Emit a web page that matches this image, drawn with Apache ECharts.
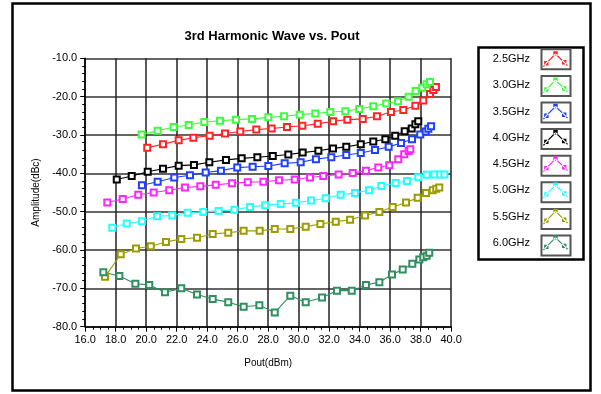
<!DOCTYPE html>
<html>
<head>
<meta charset="utf-8">
<script src="https://cdn.jsdelivr.net/npm/echarts@6/dist/echarts.min.js"></script>
<style>
html,body{margin:0;padding:0;background:#fff;}
#chart{width:601px;height:394px;}
</style>
</head>
<body>
<div id="chart"></div>
<script>
// ---------- data ----------
const seriesNames = ['2.5GHz','3.0GHz','3.5GHz','4.0GHz','4.5GHz','5.0GHz','5.5GHz','6.0GHz'];
const seriesColors = ['#ff2424','#3cff3c','#2040ff','#000000','#ff24ff','#24ffff','#9c9c00','#2f8f5f'];

const pout25 = [20.07,21.10,22.13,23.09,24.16,25.17,26.17,27.22,28.23,29.23,30.24,31.25,32.25,33.19,34.20,35.13,36.05,36.86,37.65,38.17,38.61,38.83,39.00];
const amp25  = [-33.3,-32.4,-31.4,-30.7,-30.2,-29.6,-29.1,-28.6,-28.3,-27.9,-27.6,-27.1,-26.4,-26.0,-25.8,-25.1,-24.0,-23.5,-22.4,-21.0,-19.3,-18.3,-17.5];

const pout30 = [19.70,20.75,21.80,22.79,23.81,24.84,25.89,26.94,28.01,29.04,30.07,31.09,32.07,33.06,33.97,34.89,35.74,36.51,37.21,37.67,38.10,38.39,38.61];
const amp30  = [-29.9,-28.9,-27.9,-27.4,-26.6,-26.3,-26.0,-25.8,-25.4,-25.1,-24.7,-24.4,-24.0,-23.8,-23.2,-22.5,-21.8,-21.2,-20.0,-18.5,-17.7,-16.8,-16.2];

const pout35 = [19.72,20.75,21.84,22.87,23.90,24.90,25.97,26.98,28.01,29.08,30.13,31.13,32.14,33.12,34.07,35.00,35.90,36.71,37.43,37.97,38.33,38.50,38.68];
const amp35  = [-43.1,-42.2,-41.1,-40.5,-39.8,-39.3,-38.5,-38.3,-38.1,-37.4,-37.1,-36.3,-35.8,-35.2,-34.7,-33.9,-33.1,-32.1,-31.1,-29.9,-29.1,-28.4,-27.7];

const pout40 = [18.07,19.05,20.10,21.10,22.13,23.13,24.14,25.23,26.26,27.29,28.30,29.32,30.26,31.29,32.25,33.12,34.07,34.89,35.68,36.33,36.95,37.41,37.65,37.84];
const amp40  = [-41.6,-40.7,-39.6,-38.8,-38.0,-37.8,-37.1,-36.5,-36.1,-35.8,-35.5,-35.1,-34.6,-34.1,-33.5,-33.1,-32.4,-31.7,-31.1,-30.2,-29.0,-28.3,-27.2,-26.4];

const pout45 = [17.45,18.46,19.48,20.49,21.51,22.54,23.55,24.56,25.63,26.66,27.68,28.71,29.74,30.74,31.61,32.62,33.54,34.41,35.22,35.94,36.53,36.92,37.21,37.32];
const amp45  = [-47.6,-46.7,-45.6,-45.0,-44.4,-43.7,-43.4,-43.0,-42.6,-42.3,-42.2,-41.8,-41.6,-41.1,-40.7,-40.3,-39.9,-39.3,-38.5,-37.9,-36.3,-35.0,-34.2,-33.7];

const pout50 = [17.78,18.72,19.72,20.71,21.71,22.72,23.74,24.75,25.78,26.81,27.80,28.82,29.82,30.81,31.77,32.75,33.69,34.61,35.42,36.36,37.10,37.84,38.39,38.89,39.27,39.55];
const amp50  = [-54.2,-53.1,-52.5,-51.2,-51.0,-50.3,-50.1,-49.8,-49.5,-48.8,-48.3,-48.0,-47.7,-47.1,-46.5,-45.6,-45.1,-44.4,-43.3,-42.5,-42.0,-41.0,-40.4,-40.3,-40.3,-40.3];

const pout55 = [17.30,18.33,19.33,20.30,21.30,22.30,23.33,24.36,25.38,26.39,27.44,28.43,29.45,30.46,31.42,32.43,33.37,34.35,35.29,36.16,37.04,37.80,38.35,38.79,39.02,39.22];
const amp55  = [-67.0,-61.1,-59.6,-59.0,-57.9,-57.1,-56.8,-55.8,-55.5,-55.0,-55.0,-54.5,-54.5,-53.9,-53.2,-52.6,-52.1,-51.0,-50.1,-48.8,-47.6,-46.4,-45.1,-44.4,-44.0,-43.7];

const pout60 = [17.19,18.24,19.29,20.20,21.23,22.30,23.33,24.36,25.38,26.39,27.42,28.43,29.45,30.46,31.53,32.51,33.48,34.41,35.29,36.12,36.82,37.45,37.91,38.17,38.39,38.56];
const amp60  = [-65.8,-66.8,-68.8,-69.1,-71.0,-70.0,-71.6,-72.8,-73.6,-74.8,-74.4,-76.3,-71.9,-73.6,-72.4,-70.6,-70.6,-69.1,-68.4,-66.4,-65.1,-63.6,-62.5,-61.9,-61.5,-60.7];

const xTicks = [16,18,20,22,24,26,28,30,32,34,36,38,40];
const yTicks = [-80,-70,-60,-50,-40,-30,-20,-10];

const poutSets = [pout25,pout30,pout35,pout40,pout45,pout50,pout55,pout60];
const ampSets  = [amp25,amp30,amp35,amp40,amp45,amp50,amp55,amp60];

// ---------- legend glyph (mini line chart icon) ----------
function glyphPath(){
  const pts = [[0,16],[3,12.5],[12.5,3],[21.5,11.5],[25,15]];
  const w = 0.6;
  let d = '';
  for (let i=0;i<pts.length-1;i++){
    const [x1,y1]=pts[i],[x2,y2]=pts[i+1];
    const dx=x2-x1, dy=y2-y1, L=Math.hypot(dx,dy);
    const nx=-dy/L*w, ny=dx/L*w;
    d += `M${x1+nx},${y1+ny}L${x2+nx},${y2+ny}L${x2-nx},${y2-ny}L${x1-nx},${y1-ny}Z`;
  }
  [[3,12.5],[12.5,2.5],[21.5,11.5]].forEach(([cx,cy])=>{
    const o=2.3;
    d += `M${cx-o},${cy-o}L${cx+o},${cy-o}L${cx+o},${cy+o}L${cx-o},${cy+o}Z`;
  });
  return 'path://' + d;
}
const icon = glyphPath();

const FONT = '"Liberation Sans", Arial, sans-serif';

const chart = echarts.init(document.getElementById('chart'), null, {renderer:'canvas'});

const series = seriesNames.map((name, k) => ({
  name,
  type: 'line',
  data: poutSets[k].map((x, i) => [x, ampSets[k][i]]),
  symbol: 'emptyRect',
  symbolSize: 6,
  color: seriesColors[k],
  lineStyle: { width: 1.1, color: seriesColors[k] },
  itemStyle: { color: seriesColors[k], borderWidth: 1.1 },
  emphasis: { disabled: true },
  z: 3
}));

// legend frames
const legendTop = 51.3, legendStep = 26.6;
const frames = seriesNames.map((n, i) => ({
  type: 'rect',
  shape: { x: 541.5, y: legendTop - 2 + i * legendStep, width: 29, height: 20 },
  style: { fill: 'none', stroke: '#555', lineWidth: 2 },
  z: 1
}));

const option = {
  animation: false,
  backgroundColor: '#fff',
  title: {
    text: '3rd Harmonic Wave vs. Pout',
    left: 267, top: 25, textAlign: 'center',
    textStyle: { fontFamily: FONT, fontSize: 13, fontWeight: 'bold', color: '#000' }
  },
  grid: { left: 85.2, right: 149.8, top: 58.3, bottom: 67.3, containLabel: false },
  xAxis: {
    type: 'value', min: 16, max: 40, interval: 2,
    name: 'Pout(dBm)', nameLocation: 'middle', nameGap: 32,
    nameTextStyle: { fontFamily: FONT, fontSize: 10, color: '#000' },
    axisLine: { show: true, onZero: false, lineStyle: { color: '#000', width: 1.5 } },
    axisTick: { show: true, inside: false, length: 5, lineStyle: { color: '#000' } },
    minorTick: { show: true, splitNumber: 4, length: 3, lineStyle: { color: '#000' } },
    axisLabel: { fontFamily: FONT, fontSize: 11, color: '#000', margin: 8,
      formatter: v => xTicks.includes(v) ? v.toFixed(1) : '' },
    splitLine: { show: true, lineStyle: { color: '#222', width: 1.5 } }
  },
  yAxis: {
    type: 'value', min: -80, max: -10, interval: 10,
    name: 'Amplitude(dBc)', nameLocation: 'middle', nameGap: 40, nameRotate: 90,
    nameTextStyle: { fontFamily: FONT, fontSize: 10, color: '#000' },
    axisLine: { show: true, onZero: false, lineStyle: { color: '#000', width: 1.5 } },
    axisTick: { show: true, inside: false, length: 5, lineStyle: { color: '#000' } },
    minorTick: { show: true, splitNumber: 5, length: 3, lineStyle: { color: '#000' } },
    axisLabel: { fontFamily: FONT, fontSize: 11, color: '#000', margin: 8,
      formatter: v => yTicks.includes(v) ? v.toFixed(1) : '' },
    splitLine: { show: true, lineStyle: { color: '#333', width: 1.5 } }
  },
  legend: {
    orient: 'vertical',
    right: 33, top: legendTop,
    align: 'right',
    padding: 0,
    itemWidth: 25, itemHeight: 16, itemGap: legendStep - 16,
    icon: icon,
    selectedMode: false,
    textStyle: { fontFamily: FONT, fontSize: 11, color: '#000', padding: [0, 8, 0, 0] },
    data: seriesNames.map((n, k) => ({ name: n, icon: icon, itemStyle: { color: seriesColors[k], borderWidth: 0 } }))
  },
  graphic: [
    { type: 'rect', shape: { x: 12.5, y: 3.5, width: 578, height: 387 },
      style: { fill: 'none', stroke: '#000', lineWidth: 2.5 }, z: 0 },
    { type: 'rect', shape: { x: 478.5, y: 47.5, width: 105, height: 212 },
      style: { fill: 'none', stroke: '#000', lineWidth: 2.5 }, z: 0 }
  ].concat(frames),
  series
};
chart.setOption(option);
</script>
</body>
</html>
